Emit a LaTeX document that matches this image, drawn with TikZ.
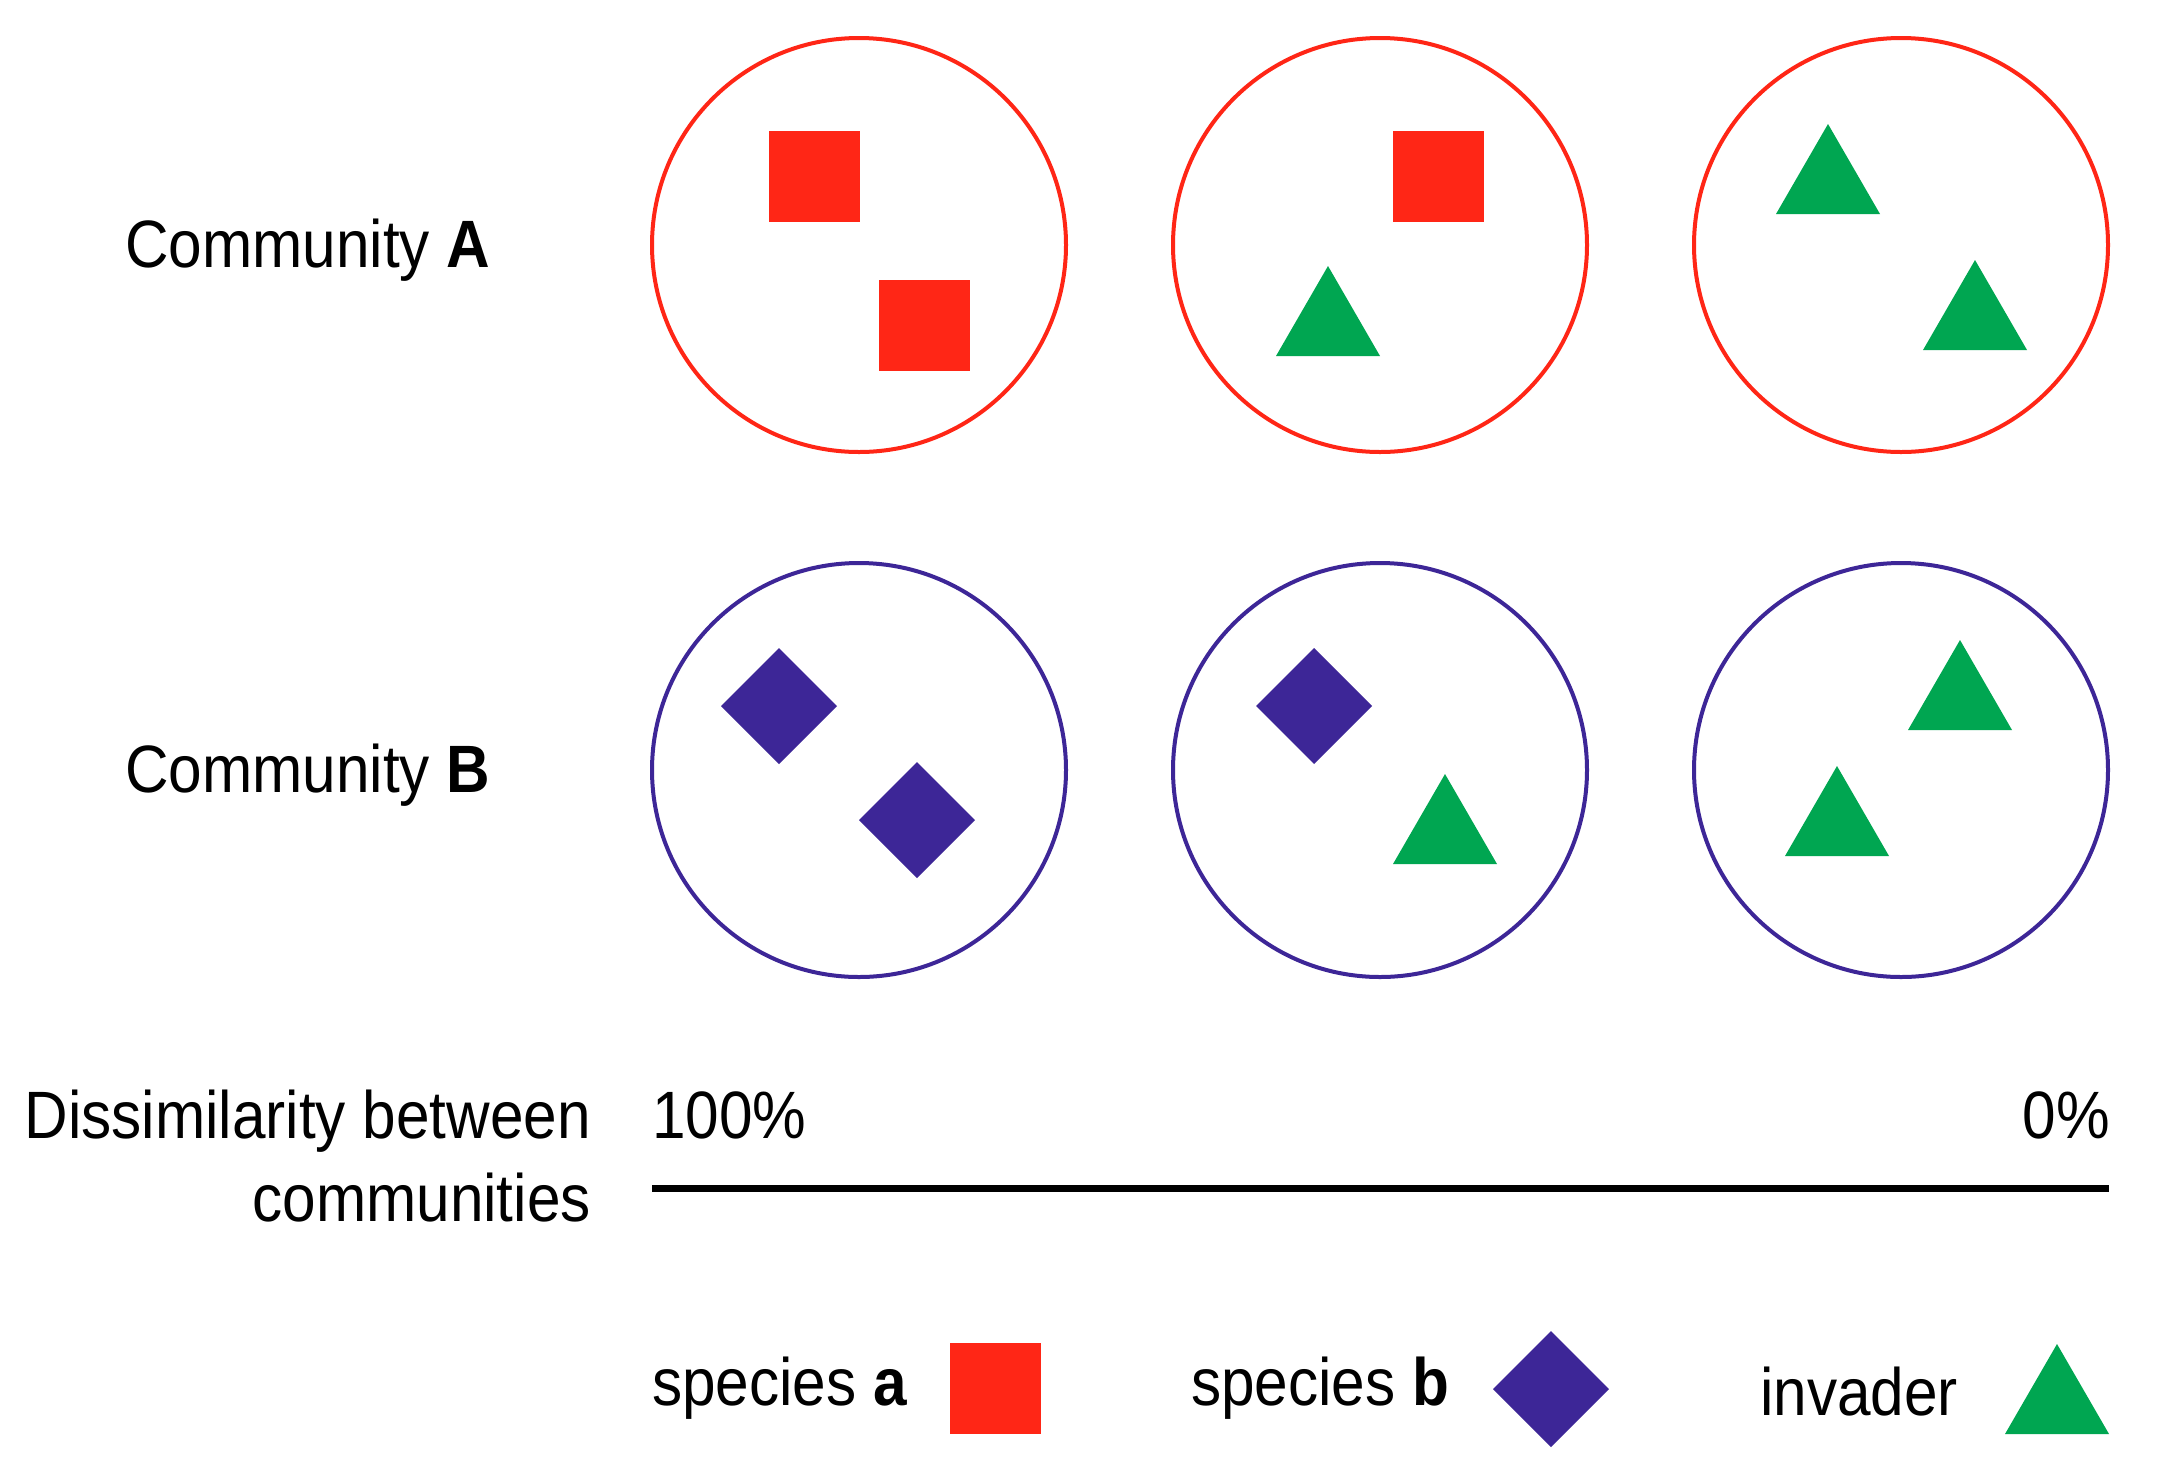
\documentclass[tikz,border=0pt]{standalone}
\usepackage{fontspec}
\setmainfont{Liberation Sans}[FakeStretch=0.9]
\definecolor{cred}{RGB}{255,38,22}
\definecolor{cgreen}{RGB}{0,166,81}
\definecolor{cpurple}{RGB}{61,38,151}
\begin{document}
\begin{tikzpicture}[x=1pt,y=-1pt,
  lbl/.style={inner sep=0pt,font=\fontsize{67}{80}\selectfont},
  commA/.style={draw=cred,line width=4pt,circle,minimum size=414pt,inner sep=0pt},
  commB/.style={draw=cpurple,line width=4pt,circle,minimum size=414pt,inner sep=0pt},
  sq/.pic={\fill[cred] (-45.5,-45.5) rectangle (45.5,45.5);},
  dia/.pic={\fill[cpurple] (-58,0) -- (0,-58) -- (58,0) -- (0,58) -- cycle;},
  tri/.pic={\fill[cgreen] (-52,45) -- (52,45) -- (0,-45) -- cycle;}
]
\useasboundingbox[fill=white] (0,0) rectangle (2171,1468);
% row labels
\node[lbl,anchor=base west] (la) at (125,267) {Community \textbf{A}};
\node[lbl,anchor=base west] (lb) at (125,792) {Community \textbf{B}};
% circles row A
\node[commA] (a1) at (859,245) {};
\node[commA] (a2) at (1380,245) {};
\node[commA] (a3) at (1901,245) {};
% circles row B
\node[commB] (b1) at (859,770) {};
\node[commB] (b2) at (1380,770) {};
\node[commB] (b3) at (1901,770) {};
% contents row A
\pic at (814,176) {sq};
\pic at (924,325) {sq};
\pic at (1438,176) {sq};
\pic at (1328,311) {tri};
\pic at (1828,169) {tri};
\pic at (1975,305) {tri};
% contents row B
\pic at (779,706) {dia};
\pic at (917,820) {dia};
\pic at (1314,706) {dia};
\pic at (1445,819) {tri};
\pic at (1960,685) {tri};
\pic at (1837,811) {tri};
% dissimilarity axis
\node[lbl,anchor=base east] (d1) at (591,1138) {Dissimilarity between};
\node[lbl,anchor=base east] (d2) at (591,1221) {communities};
\node[lbl,anchor=base west] (p100) at (652,1138) {100\%};
\node[lbl,anchor=base east] (p0) at (2110,1138) {0\%};
\coordinate (axl) at (652,1188);
\coordinate (axr) at (2109,1188);
\draw[line width=7pt] (axl) -- (axr);
% legend
\node[lbl,anchor=base west] (ga) at (652,1405) {species \textbf{a}};
\pic at (995,1388) {sq};
\node[lbl,anchor=base west] (gb) at (1191,1405) {species \textbf{b}};
\pic at (1551,1389) {dia};
\node[lbl,anchor=base west] (gi) at (1760,1415) {invader};
\pic at (2057,1389) {tri};
\end{tikzpicture}
\end{document}
